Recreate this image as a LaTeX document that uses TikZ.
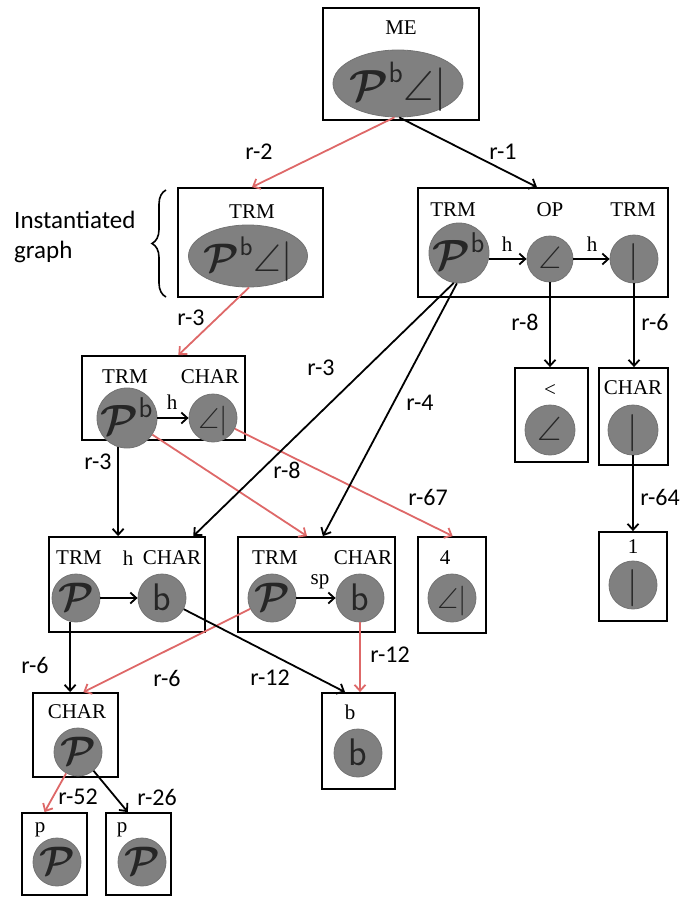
\documentclass[tikz,border=0pt]{standalone}
\usepackage{amsmath,amssymb,graphicx}
\usepackage{fontspec}
\setmainfont{Liberation Serif}
\newfontfamily\relfont{Carlito}
\usepackage{tikz}
\usetikzlibrary{arrows.meta,shapes.geometric,calc,decorations.pathreplacing}
\definecolor{relred}{RGB}{222,104,104}
\definecolor{blobgray}{RGB}{128,128,128}
\newcommand{\glyph}[2]{\smash{\makebox[0pt]{\raisebox{-0.45\height}{\scalebox{#1}{#2}}}}}
\newcommand{\hP}{\ensuremath{\boldsymbol{\mathcal{P}}}}
\newcommand{\hPb}{\ensuremath{\boldsymbol{\mathcal{P}}^{\mathsf{b}}}}
\newcommand{\hAng}{\ensuremath{\angle}}
\newcommand{\hBar}{\ensuremath{|}}
\newcommand{\hb}{\textsf{b}}

\begin{document}
\begin{tikzpicture}[x=1pt, y=-1pt,
  frame/.style={draw, line width=1.8pt, inner sep=0pt},
  blob/.style={circle, draw=black!55, fill=blobgray, line width=0.8pt, inner sep=0pt, text=black!85, font=\fontsize{24}{24}\selectfont},
  oval/.style={ellipse, draw=black!55, fill=blobgray, line width=0.8pt, inner sep=0pt, text=black!85, font=\fontsize{24}{24}\selectfont},
  kind/.style={font=\fontsize{21}{23}\selectfont, inner sep=0pt},
  rel/.style={font=\relfont\fontsize{24}{26}\selectfont, inner sep=0pt},
  link/.style={-{Straight Barb[length=6pt,width=11pt]}, line width=1.8pt},
  redlink/.style={link, draw=relred}
]
\useasboundingbox (0,0) rectangle (689,899);

% boxes
\node[frame, minimum width=156pt, minimum height=112pt] (bME) at (401,64) {};
\node[frame, minimum width=145pt, minimum height=109pt] (bTop) at (250.5,242.5) {};
\node[frame, minimum width=250pt, minimum height=109pt] (bChain) at (543,242.5) {};
\node[frame, minimum width=73pt, minimum height=94pt] (bLess) at (551.5,415) {};
\node[frame, minimum width=69pt, minimum height=97pt] (bCharR) at (633.5,416.5) {};
\node[frame, minimum width=68pt, minimum height=89pt] (bOne) at (633,576.5) {};
\node[frame, minimum width=163pt, minimum height=84pt] (bMid) at (163.5,398) {};
\node[frame, minimum width=156pt, minimum height=95pt] (bLowA) at (127,584.5) {};
\node[frame, minimum width=157pt, minimum height=95pt] (bLowB) at (316.5,584.5) {};
\node[frame, minimum width=68pt, minimum height=96pt] (bFour) at (452,585) {};
\node[frame, minimum width=85pt, minimum height=84pt] (bCharP) at (75.5,735) {};
\node[frame, minimum width=73pt, minimum height=96pt] (bB) at (358.5,741) {};
\node[frame, minimum width=65pt, minimum height=82pt] (bP1) at (54.5,854) {};
\node[frame, minimum width=65pt, minimum height=82pt] (bP2) at (138.5,854) {};

% box titles
\node[kind] (tME) at (401,28) {ME};
\node[kind] (tTop) at (252,212) {TRM};
\node[kind] (tChainA) at (453,210) {TRM};
\node[kind] (tChainB) at (550,210) {OP};
\node[kind] (tChainC) at (633,210) {TRM};
\node[kind] (tLess) at (550,390) {<};
\node[kind] (tCharR) at (633,388) {CHAR};
\node[kind] (tOne) at (633,547) {1};
\node[kind] (tMidA) at (125,377) {TRM};
\node[kind] (tMidB) at (210,377) {CHAR};
\node[kind] (tLowA1) at (79,558) {TRM};
\node[kind] (tLowAh) at (128,558) {h};
\node[kind] (tLowA2) at (172,558) {CHAR};
\node[kind] (tLowB1) at (275,558) {TRM};
\node[kind] (tLowB2) at (363,558) {CHAR};
\node[kind] (tFour) at (445,558) {4};
\node[kind] (tCharP) at (77,712) {CHAR};
\node[kind] (tB) at (350,712) {b};
\node[kind] (tP1) at (40,830) {p};
\node[kind] (tP2) at (122,830) {p};

% glyph blobs
\node[oval, minimum width=130pt, minimum height=67pt] (oME) at (398,83.5) {\glyph{1.75}{\hPb\hAng\hBar}};
\node[oval, minimum width=119pt, minimum height=62pt] (oTop) at (248,256) {\glyph{1.6}{\hPb\hAng\hBar}};
\node[blob, minimum size=60pt] (cTrmA) at (459,253) {\glyph{1.7}{\hPb}};
\node[blob, minimum size=46pt] (cOp) at (550,259) {\glyph{1.3}{\hAng}};
\node[blob, minimum size=48pt] (cTrmB) at (634,259) {\glyph{1.5}{\hBar}};
\node[blob, minimum size=50pt] (cLess) at (550,430) {\glyph{1.4}{\hAng}};
\node[blob, minimum size=50pt] (cCharR) at (633,430) {\glyph{1.5}{\hBar}};
\node[blob, minimum size=48pt] (cOne) at (633,585) {\glyph{1.5}{\hBar}};
\node[blob, minimum size=60pt] (cMidA) at (127,418) {\glyph{1.7}{\hPb}};
\node[blob, minimum size=48pt] (cMidB) at (213,418) {\glyph{1.2}{\hAng\hBar}};
\node[blob, minimum size=48pt] (cLowA1) at (76,598) {\glyph{1.6}{\hP}};
\node[blob, minimum size=48pt] (cLowA2) at (162,598) {\glyph{1.6}{\hb}};
\node[blob, minimum size=48pt] (cLowB1) at (272,598) {\glyph{1.6}{\hP}};
\node[blob, minimum size=48pt] (cLowB2) at (360,598) {\glyph{1.6}{\hb}};
\node[blob, minimum size=48pt] (cFour) at (452,598) {\glyph{1.2}{\hAng\hBar}};
\node[blob, minimum size=48pt] (cCharP) at (78,752) {\glyph{1.6}{\hP}};
\node[blob, minimum size=48pt] (cB) at (358,753) {\glyph{1.6}{\hb}};
\node[blob, minimum size=48pt] (cP1) at (57,862) {\glyph{1.6}{\hP}};
\node[blob, minimum size=48pt] (cP2) at (142,862) {\glyph{1.6}{\hP}};

% links inside boxes
\draw[link] (cTrmA.east |- cOp) -- (cOp);
\draw[link] (cOp) -- (cTrmB);
\draw[link] (cMidA) -- (cMidB);
\draw[link] (cLowA1) -- (cLowA2);
\draw[link] (cLowB1) -- (cLowB2);
\node[kind] (hChainA) at (507,244) {h};
\node[kind] (hChainB) at (592,244) {h};
\node[kind] (hMid) at (172,402) {h};
\node[kind] (hLowB) at (320,582) {sp};

% rule links
\draw[redlink] (oME.-96) -- ($(bTop.north west)!0.51!(bTop.north east)$);
\draw[link] (oME.-88) -- ($(bChain.north west)!0.476!(bChain.north east)$);
\draw[redlink] (oTop.-88) -- ($(bMid.north west)!0.59!(bMid.north east)$);
\draw[link] (cOp) -- (cOp |- bLess.north);
\draw[link] (cTrmB) -- (cTrmB |- bCharR.north);
\draw[link] (cCharR) -- (cCharR |- bOne.north);
\draw[link] (cMidA.-107) -- (cMidA.-107 |- bLowA.north);
\draw[redlink] (cMidA) -- ($(bLowB.north west)!0.44!(bLowB.north east)$);
\draw[redlink] (cMidB) -- ($(bFour.north west)!0.51!(bFour.north east)$);
\draw[link] (cTrmA.-100) -- ($(bLowA.north west)!0.92!(bLowA.north east)$);
\draw[link] (cTrmA.-94) -- ($(bLowB.north west)!0.54!(bLowB.north east)$);
\draw[link] (cLowA1.-104) -- (cLowA1.-104 |- bCharP.north);
\draw[redlink] (cLowB1) -- ($(bCharP.north west)!0.59!(bCharP.north east)$);
\draw[link] (cLowA2) -- ($(bB.north west)!0.32!(bB.north east)$);
\draw[redlink] (cLowB2) -- (cLowB2 |- bB.north);
\draw[redlink] (cCharP) -- ($(bP1.north west)!0.35!(bP1.north east)$);
\draw[link] (cCharP) -- ($(bP2.north west)!0.34!(bP2.north east)$);

% rule labels
\node[rel] (r2) at (259,152) {r-2};
\node[rel] (r1) at (503,152) {r-1};
\node[rel] (r3a) at (191,318) {r-3};
\node[rel] (r8a) at (525,322) {r-8};
\node[rel] (r6a) at (655,322) {r-6};
\node[rel] (r3b) at (321,368) {r-3};
\node[rel] (r4) at (420,403) {r-4};
\node[rel] (r3c) at (98,462) {r-3};
\node[rel] (r8b) at (287,470) {r-8};
\node[rel] (r67) at (428,497) {r-67};
\node[rel] (r64) at (660,497) {r-64};
\node[rel] (r6b) at (35,665) {r-6};
\node[rel] (r6c) at (167,678) {r-6};
\node[rel] (r12a) at (270,678) {r-12};
\node[rel] (r12b) at (390,655) {r-12};
\node[rel] (r52) at (78,797) {r-52};
\node[rel] (r26) at (157,797) {r-26};

% instantiated graph brace
\draw[line width=1.6pt, decorate, decoration={brace, amplitude=14pt}] (166,297) -- (166,190);
\node[rel, align=left, anchor=west, font=\relfont\fontsize{25}{30}\selectfont] (note) at (14,237) {Instantiated\\graph};
\end{tikzpicture}
\end{document}
